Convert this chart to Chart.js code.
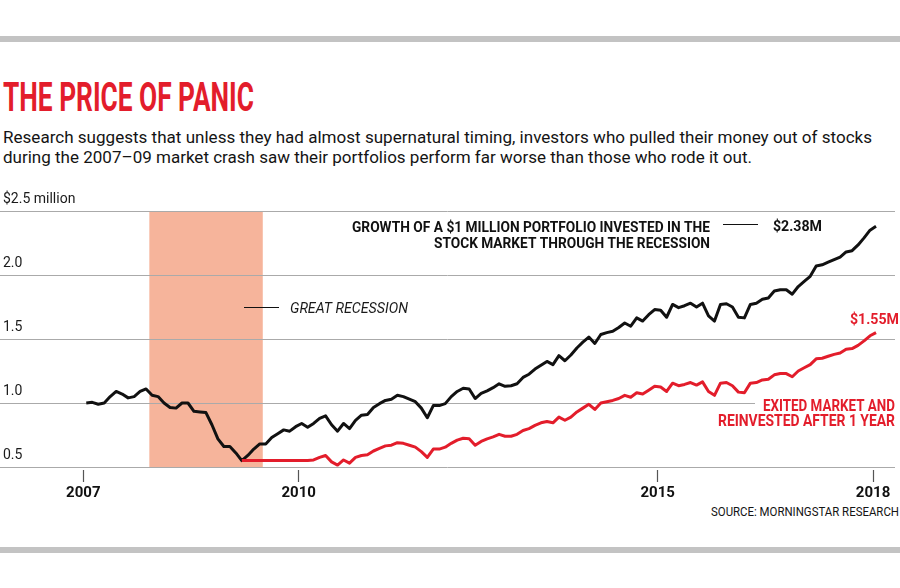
<!DOCTYPE html>
<html><head><meta charset="utf-8">
<script src="https://cdn.jsdelivr.net/npm/chart.js@4.4.1/dist/chart.umd.min.js"></script>
<style>
html,body{margin:0;padding:0;background:#fff;}
#wrap{position:relative;width:900px;height:588px;overflow:hidden;background:#fff;}
.bar{position:absolute;left:0;width:900px;height:6px;background:#c3c3c3;}
.t{position:absolute;white-space:nowrap;line-height:1;transform-origin:0 0;}
#title{left:3px;top:76.5px;font-family:Roboto,"DejaVu Sans";font-weight:bold;font-size:41px;color:#e31d2b;}
.sub{left:3px;font-family:Roboto;font-size:17px;color:#141414;}
#source{font-family:Roboto;font-size:12.7px;color:#141414;top:506px;}
#c{position:absolute;left:0;top:0;}
</style></head>
<body><div id="wrap">
<div class="bar" style="top:36px"></div>
<div class="t" id="title" data-w="251">THE PRICE OF PANIC</div>
<div class="t sub" style="top:129px" data-w="869">Research suggests that unless they had almost supernatural timing, investors who pulled their money out of stocks</div>
<div class="t sub" style="top:149px" data-w="749">during the 2007–09 market crash saw their portfolios perform far worse than those who rode it out.</div>
<div class="t" id="source" data-w="188" data-right="899">SOURCE: MORNINGSTAR RESEARCH</div>
<div class="bar" style="top:547px"></div>
<canvas id="c" width="900" height="588"></canvas>
</div>
<script>
// ---- data ----
const startYear = 2007;           // first monthly observation: January 2007
const yearTicks = [2007, 2010, 2015, 2018];
const valueTicks = [0.5, 1.0, 1.5, 2.0, 2.5];
const recessionStart = 2007.92;   // December 2007
const recessionEnd = 2009.5;      // June 2009
const stayedInvested = [
  1.00, 1.005, 0.99, 1.00, 1.05, 1.09, 1.07, 1.04, 1.05, 1.09, 1.11, 1.06,
  1.05, 1.00, 0.965, 0.96, 1.00, 1.00, 0.935, 0.93, 0.925, 0.83, 0.72, 0.66,
  0.66, 0.61, 0.55, 0.59, 0.64, 0.68, 0.68, 0.73, 0.76, 0.79, 0.78, 0.815,
  0.84, 0.81, 0.84, 0.88, 0.90, 0.83, 0.78, 0.84, 0.80, 0.865, 0.905, 0.91,
  0.965, 0.995, 1.02, 1.03, 1.06, 1.05, 1.03, 1.01, 0.96, 0.885, 0.98, 0.98,
  0.995, 1.05, 1.09, 1.115, 1.11, 1.035, 1.075, 1.095, 1.12, 1.15, 1.13, 1.135,
  1.15, 1.20, 1.225, 1.265, 1.295, 1.325, 1.30, 1.37, 1.33, 1.375, 1.43, 1.475,
  1.515, 1.465, 1.535, 1.55, 1.56, 1.59, 1.625, 1.60, 1.665, 1.64, 1.69, 1.73,
  1.725, 1.67, 1.77, 1.745, 1.76, 1.78, 1.75, 1.78, 1.68, 1.64, 1.77, 1.775,
  1.75, 1.67, 1.665, 1.77, 1.78, 1.81, 1.82, 1.875, 1.885, 1.885, 1.85, 1.91,
  1.95, 1.99, 2.07, 2.08, 2.10, 2.12, 2.14, 2.18, 2.19, 2.235, 2.29, 2.35,
  2.38
];
const exitedAndReinvested = [
  null, null, null, null, null, null, null, null, null, null, null, null,
  null, null, null, null, null, null, null, null, null, null, null, null,
  null, null, 0.55, 0.55, 0.55, 0.55, 0.55, 0.55, 0.55, 0.55, 0.55, 0.55,
  0.55, 0.55, 0.555, 0.575, 0.59, 0.54, 0.515, 0.555, 0.53, 0.575, 0.59, 0.595,
  0.625, 0.645, 0.665, 0.67, 0.69, 0.685, 0.67, 0.655, 0.62, 0.575, 0.64, 0.64,
  0.655, 0.685, 0.71, 0.725, 0.72, 0.67, 0.70, 0.72, 0.735, 0.755, 0.74, 0.74,
  0.755, 0.785, 0.80, 0.825, 0.845, 0.855, 0.845, 0.89, 0.865, 0.89, 0.93, 0.96,
  0.99, 0.95, 1.0, 1.01, 1.02, 1.035, 1.06, 1.045, 1.08, 1.07, 1.10, 1.13,
  1.125, 1.09, 1.155, 1.135, 1.145, 1.16, 1.14, 1.165, 1.09, 1.06, 1.155, 1.16,
  1.135, 1.085, 1.08, 1.155, 1.16, 1.18, 1.185, 1.22, 1.23, 1.23, 1.205, 1.25,
  1.275, 1.30, 1.345, 1.35, 1.365, 1.38, 1.39, 1.42, 1.425, 1.45, 1.485, 1.525,
  1.55
];
const blackLabel = ['GROWTH OF A $1 MILLION PORTFOLIO INVESTED IN THE', 'STOCK MARKET THROUGH THE RECESSION'];
const blackEndLabel = '$2.38M';
const redEndLabel = '$1.55M';
const redLabel = ['EXITED MARKET AND', 'REINVESTED AFTER 1 YEAR'];
const recessionLabel = 'GREAT RECESSION';

// ---- html text fitting ----
document.querySelectorAll('[data-w]').forEach(el => {
  const natural = el.getBoundingClientRect().width;
  const target = parseFloat(el.dataset.w);
  el.style.transform = 'scaleX(' + (target / natural) + ')';
  if (el.dataset.right) el.style.left = (parseFloat(el.dataset.right) - target) + 'px';
});

const toPoints = arr => arr.map((v, i) => ({x: startYear + (i + 0.5) / 12, y: v}));
const BLACK = '#111111', RED = '#e31d2b';

function fitText(ctx, text, x, y, width, align) {
  const w = ctx.measureText(text).width;
  const s = width / w;
  ctx.save();
  ctx.translate(align === 'right' ? x - width : x, y);
  ctx.scale(s, 1);
  ctx.textAlign = 'left';
  ctx.fillText(text, 0, 0);
  ctx.restore();
}

const decor = {
  id: 'decor',
  beforeDraw(chart) {
    const {ctx, chartArea, scales} = chart;
    const x0 = scales.x.getPixelForValue(recessionStart);
    const x1 = scales.x.getPixelForValue(recessionEnd);
    ctx.save();
    ctx.fillStyle = '#f6b49b';
    ctx.fillRect(x0, chartArea.top, x1 - x0, chartArea.bottom - chartArea.top);
    ctx.restore();
  },
  afterDraw(chart) {
    const {ctx} = chart;
    ctx.save();
    ctx.textBaseline = 'alphabetic';
    // black series label
    ctx.fillStyle = BLACK;
    ctx.font = 'bold 15.5px Roboto';
    fitText(ctx, blackLabel[0], 710, 232.3, 358, 'right');
    fitText(ctx, blackLabel[1], 710, 247.7, 276, 'right');
    ctx.strokeStyle = BLACK; ctx.lineWidth = 1.2;
    ctx.beginPath(); ctx.moveTo(723, 224.5); ctx.lineTo(758, 224.5); ctx.stroke();
    ctx.font = 'bold 14.5px Roboto';
    fitText(ctx, blackEndLabel, 773, 230.7, 49, 'left');
    // recession label
    ctx.font = 'italic 15px Roboto';
    ctx.fillStyle = '#1a1a1a';
    fitText(ctx, recessionLabel, 290, 313.3, 118, 'left');
    ctx.beginPath(); ctx.moveTo(244, 307.5); ctx.lineTo(279, 307.5); ctx.stroke();
    // red labels
    ctx.fillStyle = '#ffffff';
    ctx.fillRect(755, 396, 145, 34);
    ctx.fillStyle = RED;
    ctx.font = 'bold 14.5px Roboto';
    fitText(ctx, redEndLabel, 899, 324.3, 49, 'right');
    ctx.font = 'bold 16px Roboto';
    fitText(ctx, redLabel[0], 895, 410.7, 132, 'right');
    fitText(ctx, redLabel[1], 895, 426, 177, 'right');
    ctx.restore();
  }
};

new Chart(document.getElementById('c'), {
  type: 'line',
  data: {
    datasets: [
      {label: 'Exited market and reinvested after 1 year', data: toPoints(exitedAndReinvested),
       borderColor: RED, borderWidth: 3, pointRadius: 0, tension: 0, spanGaps: false,
       borderJoinStyle: 'round', borderCapStyle: 'butt'},
      {label: 'Stayed invested', data: toPoints(stayedInvested),
       borderColor: BLACK, borderWidth: 3, pointRadius: 0, tension: 0,
       borderJoinStyle: 'round', borderCapStyle: 'butt'}
    ]
  },
  options: {
    responsive: false,
    animation: false,
    events: [],
    layout: {padding: {top: 211, bottom: 81, left: 0, right: 5}},
    plugins: {legend: {display: false}, tooltip: {enabled: false}, title: {display: false}},
    scales: {
      x: {
        type: 'linear',
        min: 2005.84, max: 2018.306,
        afterBuildTicks: s => { s.ticks = yearTicks.map(v => ({value: v})); },
        afterFit: s => { s.height = 40; },
        border: {display: false},
        grid: {drawOnChartArea: false, drawTicks: true, tickLength: 15, tickColor: '#555', tickWidth: 1.2,
               tickBorderDash: [0, 3, 12]},
        ticks: {padding: 2, color: '#111', font: {family: 'Roboto', weight: 'bold', size: 15},
                callback: v => String(v), maxRotation: 0, autoSkip: false}
      },
      y: {
        min: 0.5, max: 2.5,
        afterBuildTicks: s => { s.ticks = valueTicks.map(v => ({value: v})); },
        afterFit: s => { s.width = 0; },
        border: {display: false},
        grid: {drawTicks: false, color: '#aaaaaa', lineWidth: 1},
        ticks: {mirror: true, padding: 3, labelOffset: -12, color: '#1a1a1a',
                font: {family: 'Roboto', size: 14},
                callback: v => v === 2.5 ? '$2.5 million' : v.toFixed(1)}
      }
    }
  },
  plugins: [decor]
});
</script>
</body></html>
